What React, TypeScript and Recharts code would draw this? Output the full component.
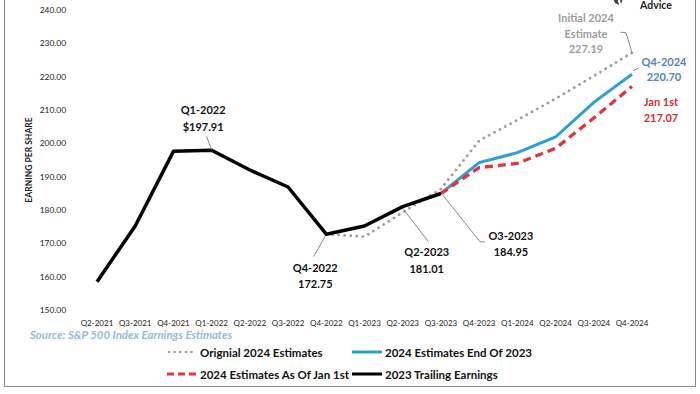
import React from 'react';
import { LineChart, Line, XAxis, YAxis } from 'recharts';

const categories = [
  'Q2-2021', 'Q3-2021', 'Q4-2021', 'Q1-2022', 'Q2-2022', 'Q3-2022', 'Q4-2022', 'Q1-2023',
  'Q2-2023', 'Q3-2023', 'Q4-2023', 'Q1-2024', 'Q2-2024', 'Q3-2024', 'Q4-2024',
];
const trailing = [158.5, 175.2, 197.6, 197.91, 192.0, 186.9, 172.75, 175.2, 181.01, 184.95, null, null, null, null, null];
const endOf2023 = [null, null, null, null, null, null, null, null, null, 184.95, 194.2, 197.2, 201.9, 212.3, 220.7];
const janFirst = [null, null, null, null, null, null, null, null, null, 184.95, 192.7, 194.0, 198.5, 207.6, 217.07];
const original = [null, null, null, null, null, null, 172.75, 172.0, 179.3, 186.3, 200.8, 207.0, 213.4, 220.2, 227.19];
const yTicks = [150, 160, 170, 180, 190, 200, 210, 220, 230, 240];

const seriesNames = {
  orig: 'Orignial 2024 Estimates',
  end: '2024 Estimates End Of 2023',
  jan: '2024 Estimates As Of Jan 1st',
  trailing: '2023 Trailing Earnings',
};
const sourceText = 'Source: S&P 500 Index Earnings Estimates';
const yLabel = 'EARNING PER SHARE';
const logoText = 'Advice';

const noteTexts = [
  { series: 'trailing', index: 3, lines: ['Q1-2022', '$197.91'] },
  { series: 'trailing', index: 6, lines: ['Q4-2022', '172.75'] },
  { series: 'trailing', index: 8, lines: ['Q2-2023', '181.01'] },
  { series: 'trailing', index: 9, lines: ['O3-2023', '184.95'] },
  { series: 'orig', index: 14, lines: ['Initial 2024', 'Estimate', '227.19'] },
  { series: 'end', index: 14, lines: ['Q4-2024', '220.70'] },
  { series: 'jan', index: 14, lines: ['Jan 1st', '217.07'] },
];

// placement of annotation text and leader lines relative to the point
const notePlacement: Record<string, { dx: number; dy: number; gap: number; color: string; leader: number[][] }> = {
  'trailing-3': { dx: -8.5, dy: -41, gap: 17, color: '#111', leader: [[0, 0], [-5, -14]] },
  'trailing-6': { dx: -11, dy: 33.5, gap: 15.5, color: '#111', leader: [[-1, 2], [-12.7, 22.5]] },
  'trailing-8': { dx: 24, dy: 45, gap: 16.5, color: '#111', leader: [[1, 3], [25.6, 35]] },
  'trailing-9': { dx: 70, dy: 41.5, gap: 16.5, color: '#111', leader: [[1.7, 1.5], [39, 48], [44, 48.5]] },
  'orig-14': { dx: -46, dy: -35, gap: 15.5, color: '#9c9c9c', leader: [[0, 0], [-6, -20], [-11.5, -20.5]] },
  'end-14': { dx: 32, dy: -12.6, gap: 15, color: '#4f82c0', leader: [[1, -3.6], [6, -6]] },
  'jan-14': { dx: 29, dy: 15.3, gap: 15.7, color: '#dc2a30', leader: [] },
};

const data = categories.map((q, i) => ({
  q,
  trailing: trailing[i],
  end: endOf2023[i],
  jan: janFirst[i],
  orig: original[i],
}));

const FONT = 'Lato, "Noto Sans", sans-serif';

const makeDot = (series: string) => (props: any) => {
  const { cx, cy, index } = props;
  const note = noteTexts.find((n) => n.series === series && n.index === index);
  const key = `${series}-${index}`;
  if (!note || cx == null || cy == null) return <g key={key} />;
  const p = notePlacement[key];
  return (
    <g key={key}>
      {p.leader.length > 1 && (
        <polyline
          points={p.leader.map(([dx, dy]) => `${cx + dx},${cy + dy}`).join(' ')}
          fill="none"
          stroke="#6a6a6a"
          strokeWidth={0.8}
        />
      )}
      {note.lines.map((t, j) => (
        <text
          key={j}
          x={cx + p.dx}
          y={cy + p.dy + j * p.gap}
          textAnchor="middle"
          dominantBaseline="central"
          fontFamily={FONT}
          fontWeight={700}
          fontSize={11}
          fill={p.color}
        >
          {t}
        </text>
      ))}
    </g>
  );
};

const LegendMarker = ({ kind }: { kind: string }) => {
  if (kind === 'orig')
    return (
      <svg width={32} height={6}>
        <line x1={3} y1={3} x2={30} y2={3} stroke="#9e9e9e" strokeWidth={2.6} strokeDasharray="0.1 5.5" strokeLinecap="round" />
      </svg>
    );
  if (kind === 'jan')
    return (
      <svg width={32} height={6}>
        <line x1={1} y1={3} x2={31} y2={3} stroke="#e0353b" strokeWidth={3.2} strokeDasharray="7 4" />
      </svg>
    );
  return (
    <svg width={32} height={6}>
      <line x1={1} y1={3} x2={31} y2={3} stroke={kind === 'end' ? '#2e9fd6' : '#000'} strokeWidth={3} />
    </svg>
  );
};

const legendItems = [
  { key: 'orig', left: 166, top: 352 },
  { key: 'end', left: 351, top: 352 },
  { key: 'jan', left: 166, top: 374 },
  { key: 'trailing', left: 351, top: 374 },
];

export default function App() {
  return (
    <div style={{ position: 'fixed', left: 0, top: 0, width: 700, height: 394, background: '#fff', overflow: 'hidden' }}>
      <div
        style={{
          position: 'absolute',
          left: 4,
          top: -2,
          width: 692,
          height: 389,
          border: '1px solid #8a8a8a',
          boxSizing: 'border-box',
        }}
      />
      <svg style={{ position: 'absolute', left: 610, top: -4 }} width={16} height={12}>
        <path d="M2 0 L7 0 L9 9 L5 7 Z M9 0 L14 0 L11 8 Z" fill="#444" />
      </svg>
      <div
        style={{
          position: 'absolute',
          left: 640,
          top: 0,
          fontFamily: FONT,
          fontWeight: 700,
          fontSize: 10.5,
          lineHeight: '11px',
          color: '#222',
        }}
      >
        {logoText}
      </div>
      <div style={{ position: 'absolute', left: 0, top: 0 }}>
        <LineChart width={700} height={394} data={data} margin={{ top: 10, right: 68, bottom: 0, left: 0 }}>
          <XAxis
            dataKey="q"
            height={84}
            axisLine={false}
            tickLine={false}
            tickSize={0}
            tickMargin={10}
            interval={0}
            tick={{ fontFamily: FONT, fontSize: 8, fill: '#222' }}
          />
          <YAxis
            width={97}
            domain={[150, 240]}
            ticks={yTicks}
            axisLine={false}
            tickLine={false}
            tickSize={0}
            tickMargin={31}
            tickFormatter={(v: number) => v.toFixed(2)}
            tick={{ fontFamily: FONT, fontSize: 8.4, fill: '#222' }}
            label={(props: any) => {
              const vb = props.viewBox || {};
              const cy = (vb.y ?? 10) + (vb.height ?? 300) / 2;
              return (
                <text
                  x={29}
                  y={cy}
                  transform={`rotate(-90, 29, ${cy})`}
                  textAnchor="middle"
                  dominantBaseline="central"
                  fontFamily={FONT}
                  fontWeight={700}
                  fontSize={8.5}
                  fill="#222"
                >
                  {yLabel}
                </text>
              );
            }}
          />
          <Line
            dataKey="orig"
            stroke="#9e9e9e"
            strokeWidth={2.8}
            strokeDasharray="0.1 6"
            strokeLinecap="round"
            dot={makeDot('orig')}
            activeDot={false}
            isAnimationActive={false}
          />
          <Line
            dataKey="end"
            stroke="#2e9fd6"
            strokeWidth={3}
            dot={makeDot('end')}
            activeDot={false}
            isAnimationActive={false}
          />
          <Line
            dataKey="jan"
            stroke="#e0353b"
            strokeWidth={3.3}
            strokeDasharray="8 5"
            dot={makeDot('jan')}
            activeDot={false}
            isAnimationActive={false}
          />
          <Line
            dataKey="trailing"
            stroke="#000"
            strokeWidth={3.5}
            strokeLinejoin="round"
            dot={makeDot('trailing')}
            activeDot={false}
            isAnimationActive={false}
          />
        </LineChart>
      </div>
      <div
        style={{
          position: 'absolute',
          left: 30,
          top: 328,
          fontFamily: FONT,
          fontStyle: 'italic',
          fontWeight: 700,
          fontSize: 11.4,
          color: '#97b9dc',
          whiteSpace: 'nowrap',
        }}
      >
        {sourceText}
      </div>
      {legendItems.map((it) => (
        <div
          key={it.key}
          style={{
            position: 'absolute',
            left: it.left,
            top: it.top - 8,
            height: 16,
            display: 'flex',
            alignItems: 'center',
            fontFamily: FONT,
            fontWeight: 700,
            fontSize: 11.5,
            color: '#111',
            whiteSpace: 'nowrap',
          }}
        >
          <LegendMarker kind={it.key} />
          <span style={{ marginLeft: 2 }}>{(seriesNames as any)[it.key]}</span>
        </div>
      ))}
    </div>
  );
}
